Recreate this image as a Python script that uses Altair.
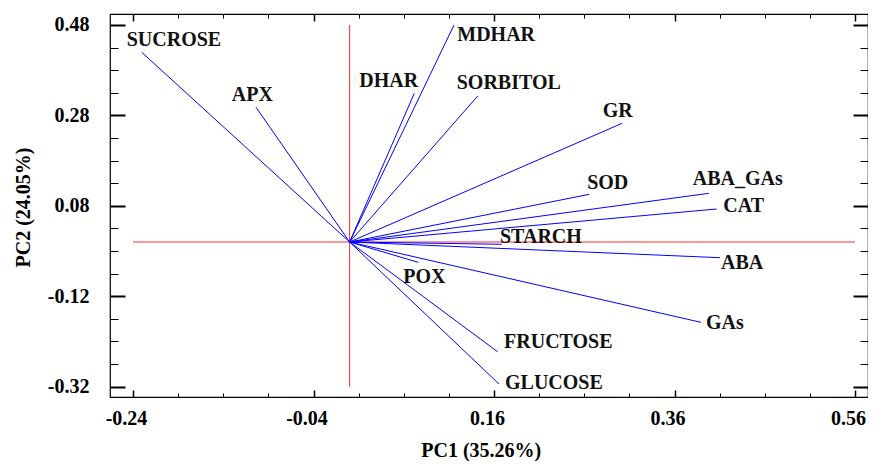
import altair as alt
import pandas as pd

# ---- data ----
variables = ["SUCROSE", "APX", "DHAR", "MDHAR", "SORBITOL", "GR", "SOD", "ABA_GAs",
             "CAT", "STARCH", "ABA", "POX", "GAs", "FRUCTOSE", "GLUCOSE"]
pc1 = [-0.2304, -0.1037, 0.0717, 0.1157, 0.1420, 0.3020, 0.2656, 0.3980,
       0.4067, 0.1685, 0.4104, 0.0761, 0.3894, 0.1640, 0.1655]
pc2 = [0.4197, 0.2980, 0.3290, 0.4800, 0.3230, 0.2626, 0.1055, 0.1077,
       0.0730, -0.0050, -0.0347, -0.0450, -0.1777, -0.2427, -0.3140]
label_pc1 = [-0.2470, -0.1306, 0.0107, 0.1193, 0.1187, 0.2804, 0.2632, 0.3802,
             0.4141, 0.1666, 0.4115, 0.0595, 0.3949, 0.1711, 0.1722]
label_pc2 = [0.4470, 0.3250, 0.3570, 0.4580, 0.3510, 0.2898, 0.1299, 0.1394,
             0.0803, 0.0104, -0.0471, -0.0768, -0.1799, -0.2206, -0.3126]

x_major = [-0.24, -0.04, 0.16, 0.36, 0.56]
x_minor = [-0.19, -0.14, -0.09, 0.01, 0.06, 0.11, 0.21, 0.26, 0.31, 0.41, 0.46, 0.51]
y_major = [-0.32, -0.12, 0.08, 0.28, 0.48]
y_minor = [-0.27, -0.22, -0.17, -0.07, -0.02, 0.03, 0.13, 0.18, 0.23, 0.33, 0.38, 0.43]

h_extent = [-0.24, 0.56]   # red horizontal reference line
v_extent = [-0.32, 0.48]   # red vertical reference line

X_DOMAIN = [-0.2655, 0.5744]
Y_DOMAIN = [-0.3428, 0.5043]
FONT = "Liberation Serif"

vec = pd.DataFrame({"var": variables, "x0": [0.0] * len(variables), "y0": [0.0] * len(variables),
                    "x": pc1, "y": pc2, "lx": label_pc1, "ly": label_pc2})
hline = pd.DataFrame({"x": [h_extent[0]], "x2": [h_extent[1]], "y": [0.0]})
vline = pd.DataFrame({"x": [0.0], "y": [v_extent[0]], "y2": [v_extent[1]]})

label_expr = "(datum.value < 0 ? '-' : '') + format(abs(datum.value), '.2f')"


def tick_axis(orient, values, size, width, **kw):
    base = dict(orient=orient, values=values, offset=-size, tickSize=size, tickWidth=width,
                tickColor="black", domain=False, grid=False)
    base.update(kw)
    if "labels" not in kw:
        base["labels"] = False
    if "title" not in kw:
        base["title"] = ""
    return alt.Axis(**base)


x_bottom_major = tick_axis(
    "bottom", x_major, 7, 1.5, labels=True, labelExpr=label_expr, labelFont=FONT,
    labelFontSize=20, labelFontWeight="bold", labelColor="black", labelPadding=11,
    labelOffset=-7, labelFlush=False, labelOverlap=False,
    title="PC1 (35.26%)", titleFont=FONT, titleFontSize=20, titleFontWeight="bold",
    titleColor="black", titleX=370.7, titleY=66.7, titleBaseline="alphabetic", titleAlign="center")
x_bottom_minor = tick_axis("bottom", x_minor, 4, 1)
x_top_major = tick_axis("top", x_major, 7, 1.5)
x_top_minor = tick_axis("top", x_minor, 4, 1)

y_left_major = tick_axis(
    "left", y_major, 15, 2, labels=True, labelExpr=label_expr, labelFont=FONT,
    labelFontSize=20, labelFontWeight="bold", labelColor="black", labelPadding=21,
    labelFlush=False, labelOverlap=False,
    title="PC2 (24.05%)", titleFont=FONT, titleFontSize=20, titleFontWeight="bold",
    titleColor="black", titleX=-101.5, titleY=193, titleAngle=270, titleBaseline="middle",
    titleAlign="center")
y_left_minor = tick_axis("left", y_minor, 8, 1)
y_right_major = tick_axis("right", y_major, 15, 2)
y_right_minor = tick_axis("right", y_minor, 8, 1)


def X(field, axis):
    return alt.X(field, type="quantitative", axis=axis,
                 scale=alt.Scale(domain=X_DOMAIN, nice=False, zero=False))


def Y(field, axis):
    return alt.Y(field, type="quantitative", axis=axis,
                 scale=alt.Scale(domain=Y_DOMAIN, nice=False, zero=False))


hl = alt.Chart(hline).mark_rule(color="#ff2a2a", strokeWidth=1).encode(
    x=X("x", x_top_major), x2="x2", y=Y("y", y_right_major))
vl = alt.Chart(vline).mark_rule(color="#ff2a2a", strokeWidth=1).encode(
    x=X("x", x_top_minor), y=Y("y", y_right_minor), y2="y2")
vectors = alt.Chart(vec).mark_rule(color="#0000ff", strokeWidth=1).encode(
    x=X("x0", x_bottom_major), y=Y("y0", y_left_major), x2="x", y2="y")
labels = alt.Chart(vec).mark_text(
    align="left", baseline="middle", font=FONT, fontSize=20, fontWeight="bold", color="#111111"
).encode(x=X("lx", x_bottom_minor), y=Y("ly", y_left_minor), text="var:N")

chart = alt.layer(hl, vl, vectors, labels).resolve_axis(
    x="independent", y="independent"
).properties(
    width=758, height=383, autosize="none",
    padding={"left": 102, "top": 6, "right": 0, "bottom": 67},
    background="white",
).configure_view(stroke="black", strokeWidth=1.2)

chart.save("out.html", embed_options={"renderer": "svg", "actions": False})
